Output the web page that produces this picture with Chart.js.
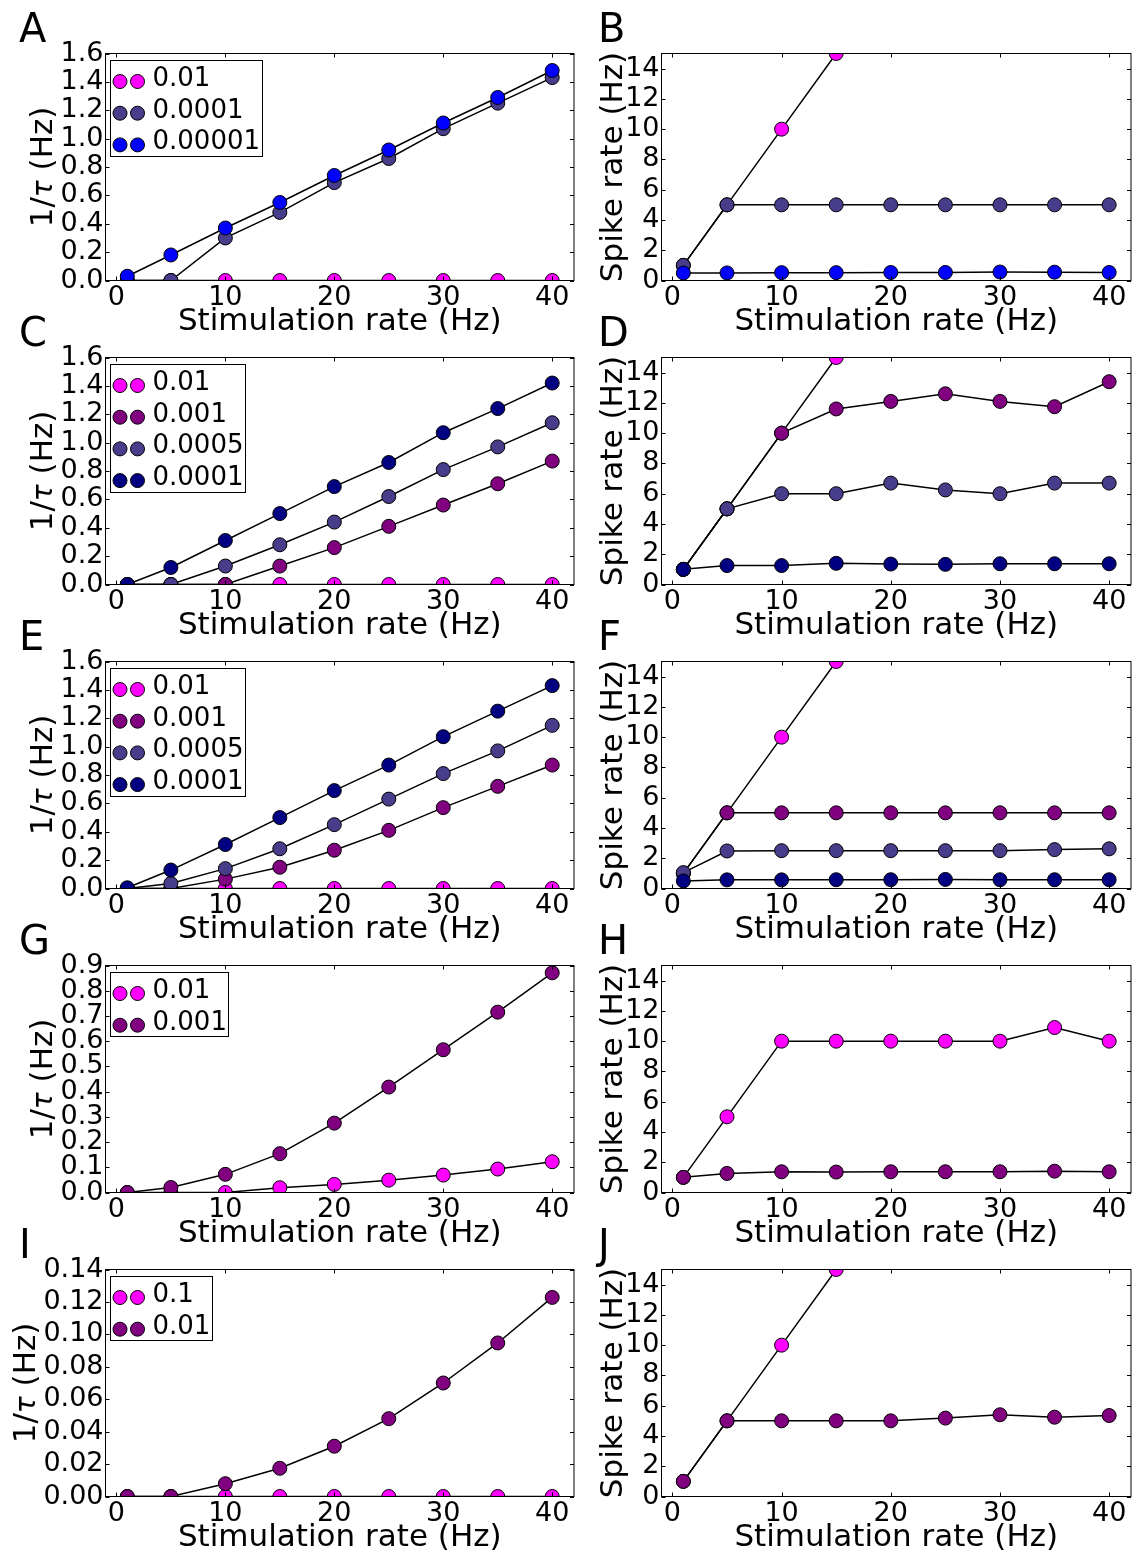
<!DOCTYPE html>
<html>
<head>
<meta charset="utf-8">
<script src="https://cdn.jsdelivr.net/npm/chart.js@4.4.1/dist/chart.umd.min.js"></script>
<style>
  html, body { margin: 0; padding: 0; background: #fff; }
  body { width: 1139px; height: 1555px; position: relative; overflow: hidden; }
  canvas { position: absolute; }
</style>
</head>
<body>
<script>
// ---- shared axes ----
const stimRate = [1, 5, 10, 15, 20, 25, 30, 35, 40];
const xTicks = [0, 10, 20, 30, 40];
const tauTicks16 = [0, 0.2, 0.4, 0.6, 0.8, 1.0, 1.2, 1.4, 1.6];
const tauTicks09 = [0, 0.1, 0.2, 0.3, 0.4, 0.5, 0.6, 0.7, 0.8, 0.9];
const tauTicks014 = [0, 0.02, 0.04, 0.06, 0.08, 0.10, 0.12, 0.14];
const rateTicks = [0, 2, 4, 6, 8, 10, 12, 14];

// ---- A / B ----
const legendAB = ['0.01', '0.0001', '0.00001'];
const tauA_0p01    = [0, 0, 0, 0, 0, 0, 0, 0, 0];
const tauA_0p0001  = [0, 0, 0.30, 0.48, 0.69, 0.86, 1.07, 1.25, 1.43];
const tauA_0p00001 = [0.03, 0.18, 0.37, 0.55, 0.74, 0.92, 1.11, 1.29, 1.48];
const rateB_0p01    = [1, 5, 10, 15, 20, 25, 30, 35, 40];
const rateB_0p0001  = [1, 5, 5, 5, 5, 5, 5, 5, 5];
const rateB_0p00001 = [0.5, 0.5, 0.52, 0.52, 0.53, 0.53, 0.56, 0.55, 0.53];

// ---- C / D ----
const legendCD = ['0.01', '0.001', '0.0005', '0.0001'];
const tauC_0p01   = [0, 0, 0, 0, 0, 0, 0, 0, 0];
const tauC_0p001  = [0, 0, 0, 0.13, 0.26, 0.41, 0.56, 0.71, 0.87];
const tauC_0p0005 = [0, 0, 0.13, 0.28, 0.44, 0.62, 0.81, 0.97, 1.14];
const tauC_0p0001 = [0, 0.12, 0.31, 0.50, 0.69, 0.86, 1.07, 1.24, 1.42];
const rateD_0p01   = [1, 5, 10, 15, 20, 25, 30, 35, 40];
const rateD_0p001  = [1, 5, 10, 11.6, 12.1, 12.6, 12.1, 11.75, 13.4];
const rateD_0p0005 = [1, 5, 6, 6, 6.7, 6.25, 6, 6.7, 6.7];
const rateD_0p0001 = [1, 1.25, 1.25, 1.4, 1.35, 1.33, 1.37, 1.37, 1.37];

// ---- E / F ----
const legendEF = ['0.01', '0.001', '0.0005', '0.0001'];
const tauE_0p01   = [0, 0, 0, 0, 0, 0, 0, 0, 0];
const tauE_0p001  = [0, 0, 0.066, 0.15, 0.27, 0.41, 0.57, 0.72, 0.87];
const tauE_0p0005 = [0, 0.035, 0.14, 0.28, 0.45, 0.63, 0.81, 0.97, 1.15];
const tauE_0p0001 = [0.005, 0.13, 0.31, 0.50, 0.69, 0.87, 1.07, 1.25, 1.43];
const rateF_0p01   = [1, 5, 10, 15, 20, 25, 30, 35, 40];
const rateF_0p001  = [1, 5, 5, 5, 5, 5, 5, 5, 5];
const rateF_0p0005 = [1.05, 2.48, 2.5, 2.5, 2.5, 2.5, 2.5, 2.57, 2.62];
const rateF_0p0001 = [0.5, 0.57, 0.57, 0.58, 0.58, 0.6, 0.58, 0.58, 0.58];

// ---- G / H ----
const legendGH = ['0.01', '0.001'];
const tauG_0p01  = [0, 0, 0, 0.019, 0.032, 0.049, 0.069, 0.093, 0.122];
const tauG_0p001 = [0, 0.02, 0.072, 0.154, 0.275, 0.418, 0.566, 0.715, 0.871];
const rateH_0p01  = [1, 5, 10, 10, 10, 10, 10, 10.9, 10];
const rateH_0p001 = [1, 1.26, 1.37, 1.35, 1.37, 1.37, 1.37, 1.41, 1.37];

// ---- I / J ----
const legendIJ = ['0.1', '0.01'];
const tauI_0p1  = [0, 0, 0, 0, 0, 0, 0, 0, 0];
const tauI_0p01 = [0, 0, 0.0079, 0.0174, 0.031, 0.048, 0.070, 0.0947, 0.1228];
const rateJ_0p1  = [1, 5, 10, 15, 20, 25, 30, 35, 40];
const rateJ_0p01 = [1, 5, 5, 5, 5, 5.18, 5.4, 5.24, 5.35];

// ---- styling ----
const FAMILY = "'DejaVu Sans', 'Liberation Sans', sans-serif";
const MAGENTA = '#ff00ff', PURPLE = '#800080', SLATE = '#483d8b', BLUE = '#0000ff', NAVY = '#000080';

const ROW_PITCH = 304;
const PLOT_TOP = 53.5;
const PLOT_H = 227;
const CANVAS_H = 343;
const COLS = [
  { left: 0,   width: 582, plotLeft: 105.5, plotRight: 579.5, letterX: 19 },
  { left: 582, width: 557, plotLeft: 79.5,  plotRight: 553.5, letterX: 16 }
];

const TAU_TITLE = [
  { text: '1/', font: '31px ' + FAMILY },
  { text: 'τ', font: 'italic 28px ' + FAMILY },
  { text: ' (Hz)', font: '31px ' + FAMILY }
];
const RATE_TITLE = [{ text: 'Spike rate (Hz)', font: '31px ' + FAMILY }];

function series(labels, colors, arrays) {
  return labels.map((lab, i) => ({ label: lab, color: colors[i], values: arrays[i] }));
}

const panels = [
  { letter: 'A', col: 0, row: 0, yMax: 1.6, yTicks: tauTicks16, digits: 1, legend: true, title: TAU_TITLE, titleX: 51.5,
    series: series(legendAB, [MAGENTA, SLATE, BLUE], [tauA_0p01, tauA_0p0001, tauA_0p00001]) },
  { letter: 'B', col: 1, row: 0, yMax: 15, yTicks: rateTicks, digits: 0, legend: false, title: RATE_TITLE, titleX: 40,
    series: series(legendAB, [MAGENTA, SLATE, BLUE], [rateB_0p01, rateB_0p0001, rateB_0p00001]) },
  { letter: 'C', col: 0, row: 1, yMax: 1.6, yTicks: tauTicks16, digits: 1, legend: true, title: TAU_TITLE, titleX: 51.5,
    series: series(legendCD, [MAGENTA, PURPLE, SLATE, NAVY], [tauC_0p01, tauC_0p001, tauC_0p0005, tauC_0p0001]) },
  { letter: 'D', col: 1, row: 1, yMax: 15, yTicks: rateTicks, digits: 0, legend: false, title: RATE_TITLE, titleX: 40,
    series: series(legendCD, [MAGENTA, PURPLE, SLATE, NAVY], [rateD_0p01, rateD_0p001, rateD_0p0005, rateD_0p0001]) },
  { letter: 'E', col: 0, row: 2, yMax: 1.6, yTicks: tauTicks16, digits: 1, legend: true, title: TAU_TITLE, titleX: 51.5,
    series: series(legendEF, [MAGENTA, PURPLE, SLATE, NAVY], [tauE_0p01, tauE_0p001, tauE_0p0005, tauE_0p0001]) },
  { letter: 'F', col: 1, row: 2, yMax: 15, yTicks: rateTicks, digits: 0, legend: false, title: RATE_TITLE, titleX: 40,
    series: series(legendEF, [MAGENTA, PURPLE, SLATE, NAVY], [rateF_0p01, rateF_0p001, rateF_0p0005, rateF_0p0001]) },
  { letter: 'G', col: 0, row: 3, yMax: 0.9, yTicks: tauTicks09, digits: 1, legend: true, title: TAU_TITLE, titleX: 51.5,
    series: series(legendGH, [MAGENTA, PURPLE], [tauG_0p01, tauG_0p001]) },
  { letter: 'H', col: 1, row: 3, yMax: 15, yTicks: rateTicks, digits: 0, legend: false, title: RATE_TITLE, titleX: 40,
    series: series(legendGH, [MAGENTA, PURPLE], [rateH_0p01, rateH_0p001]) },
  { letter: 'I', col: 0, row: 4, yMax: 0.14, yTicks: tauTicks014, digits: 2, legend: true, title: TAU_TITLE, titleX: 35,
    series: series(legendIJ, [MAGENTA, PURPLE], [tauI_0p1, tauI_0p01]) },
  { letter: 'J', col: 1, row: 4, yMax: 15, yTicks: rateTicks, digits: 0, legend: false, title: RATE_TITLE, titleX: 40,
    series: series(legendIJ, [MAGENTA, PURPLE], [rateJ_0p1, rateJ_0p01]) }
];

// Frame with inward ticks on all four sides, rotated y title, panel letter and boxed legend.
const decor = {
  id: 'decor',
  afterDatasetsDraw(chart, args, opts) {
    const { ctx, chartArea: a, scales: { x, y } } = chart;
    const TL = 4;
    ctx.save();
    ctx.strokeStyle = '#000';
    ctx.lineWidth = 1;
    ctx.beginPath();
    x.ticks.forEach(t => {
      const px = Math.round(x.getPixelForValue(t.value)) + 0.5;
      ctx.moveTo(px, a.bottom); ctx.lineTo(px, a.bottom - TL);
      ctx.moveTo(px, a.top); ctx.lineTo(px, a.top + TL);
    });
    y.ticks.forEach(t => {
      const py = Math.round(y.getPixelForValue(t.value)) + 0.5;
      ctx.moveTo(a.left, py); ctx.lineTo(a.left + TL, py);
      ctx.moveTo(a.right, py); ctx.lineTo(a.right - TL, py);
    });
    ctx.stroke();
    ctx.strokeRect(a.left, a.top, a.right - a.left, a.bottom - a.top);

    // y-axis title, rotated, built from pieces
    const cy = (a.top + a.bottom) / 2;
    ctx.fillStyle = '#000';
    ctx.textBaseline = 'alphabetic';
    ctx.textAlign = 'left';
    let total = 0;
    const widths = opts.title.map(p => { ctx.font = p.font; const w = ctx.measureText(p.text).width; total += w; return w; });
    ctx.save();
    ctx.translate(opts.titleX, cy);
    ctx.rotate(-Math.PI / 2);
    let cx = -total / 2;
    opts.title.forEach((p, i) => { ctx.font = p.font; ctx.fillText(p.text, cx, 0); cx += widths[i]; });
    ctx.restore();

    // panel letter
    ctx.font = '40px ' + FAMILY;
    ctx.fillText(opts.letter, opts.letterX, 42);

    // legend
    if (opts.legend) {
      const ds = chart.data.datasets;
      ctx.font = '26px ' + FAMILY;
      let maxW = 0;
      ds.forEach(d => { maxW = Math.max(maxW, ctx.measureText(d.label).width); });
      const bx = Math.round(a.left + 4.5) + 0.5;
      const by = Math.round(a.top + 6) + 0.5;
      const rowH = 31.7;
      const bw = Math.round(42 + maxW + 2);
      const bh = Math.round(21 + (ds.length - 1) * rowH + 11.5);
      ctx.fillStyle = '#fff';
      ctx.fillRect(bx, by, bw, bh);
      ctx.strokeStyle = '#000';
      ctx.strokeRect(bx, by, bw, bh);
      ds.forEach((d, i) => {
        const ry = by + 21 + i * rowH;
        [9.5, 27].forEach(off => {
          ctx.beginPath();
          ctx.arc(bx + off, ry, 7, 0, Math.PI * 2);
          ctx.fillStyle = d.pointBackgroundColor;
          ctx.fill();
          ctx.strokeStyle = '#000';
          ctx.stroke();
        });
        ctx.fillStyle = '#000';
        ctx.fillText(d.label, bx + 42, ry + 4.5);
      });
    }
    ctx.restore();
  }
};

panels.forEach(p => {
  const col = COLS[p.col];
  const top = p.row * ROW_PITCH;
  const h = CANVAS_H;
  const canvas = document.createElement('canvas');
  canvas.width = col.width;
  canvas.height = h;
  canvas.style.left = col.left + 'px';
  canvas.style.top = top + 'px';
  canvas.style.width = col.width + 'px';
  canvas.style.height = h + 'px';
  document.body.appendChild(canvas);

  const datasets = p.series.map((s, i) => ({
    label: s.label,
    data: stimRate.map((xv, k) => ({ x: xv, y: s.values[k] })),
    borderColor: '#000',
    borderWidth: 1.5,
    backgroundColor: s.color,
    pointBackgroundColor: s.color,
    pointBorderColor: '#000',
    pointBorderWidth: 1,
    pointRadius: 7,
    pointHoverRadius: 7,
    tension: 0,
    fill: false,
    clip: 0,
    order: -i
  }));

  const xAxisH = h - PLOT_TOP - PLOT_H;

  new Chart(canvas, {
    type: 'line',
    data: { datasets },
    plugins: [decor],
    options: {
      responsive: false,
      animation: false,
      devicePixelRatio: 1,
      events: [],
      layout: { padding: { left: 0, top: PLOT_TOP, right: col.width - col.plotRight, bottom: 0 } },
      plugins: {
        legend: { display: false },
        tooltip: { enabled: false },
        decor: { title: p.title, titleX: p.titleX, letter: p.letter, letterX: col.letterX, legend: p.legend }
      },
      scales: {
        x: {
          type: 'linear', min: -1, max: 42,
          grid: { display: false, drawTicks: false },
          border: { display: false },
          afterBuildTicks: s => { s.ticks = xTicks.map(v => ({ value: v })); },
          afterFit: s => { s.height = xAxisH; },
          ticks: { font: { family: FAMILY, size: 27 }, color: '#000', padding: 1, maxRotation: 0, autoSkip: false,
                   callback: v => String(v) },
          title: { display: true, text: 'Stimulation rate (Hz)', color: '#000',
                   font: { family: FAMILY, size: 31 }, padding: { top: 0, bottom: 2 } }
        },
        y: {
          type: 'linear', min: 0, max: p.yMax,
          grid: { display: false, drawTicks: false },
          border: { display: false },
          afterBuildTicks: s => { s.ticks = p.yTicks.map(v => ({ value: v })); },
          afterFit: s => { s.width = col.plotLeft; },
          ticks: { font: { family: FAMILY, size: 27 }, color: '#000', padding: 2, autoSkip: false,
                   callback: v => Number(v).toFixed(p.digits) }
        }
      }
    }
  });
});
</script>
</body>
</html>
